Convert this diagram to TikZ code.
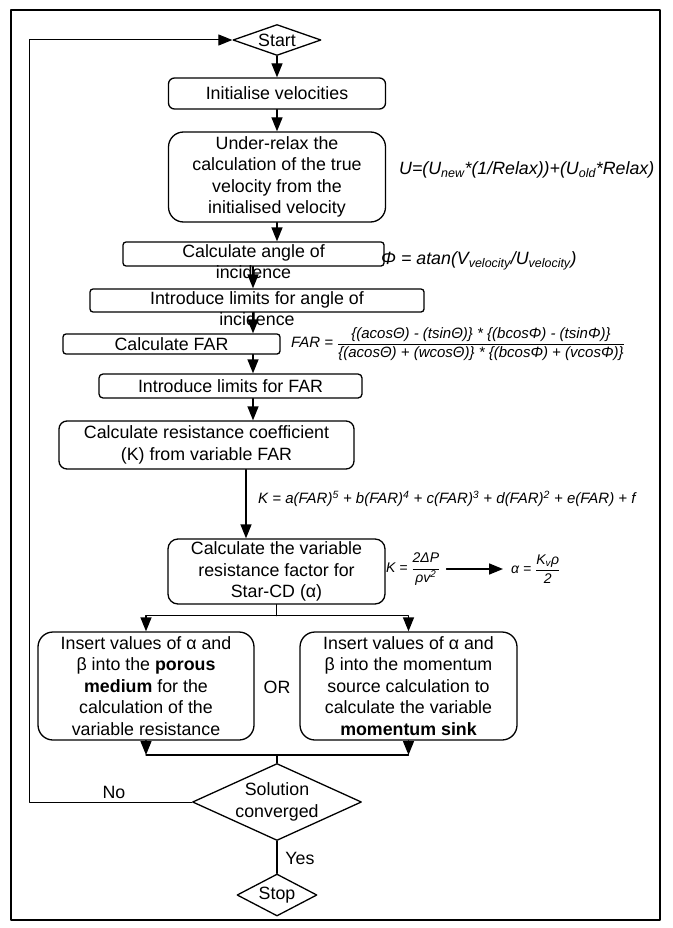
\documentclass[tikz,border=0pt]{standalone}
\usepackage{fontspec}
\setmainfont{Liberation Sans}
\usetikzlibrary{arrows.meta,shapes.geometric}
\tikzset{
    txt/.style={font=\fontsize{17.8}{21.5}\selectfont},
    eqn/.style={font=\fontsize{#1}{20}\selectfont\itshape, inner sep=0pt, anchor=west},
    eqn/.default=15,
    stepbox/.style={draw, line width=1.3pt, rounded corners=#1, txt, align=center, inner sep=0pt},
    stepbox/.default=4pt,
    decision/.style={draw, shape=diamond, line width=1.3pt, txt, align=center, inner sep=0pt},
    link/.style={line width=1.3pt, -{Triangle[length=14pt,width=11pt]}}
}

\begin{document}
\begin{tikzpicture}[x=1pt, y=-1pt, line cap=round, line join=round]

\useasboundingbox (0,0) rectangle (672,928);
\draw[line width=2pt] (11,10) rectangle (660,920);

\def\xmid{277}
\coordinate (spine) at (253,0);
\coordinate (kline) at (246,0);
\coordinate (loopx) at (29,0);

% main column
\node[decision, aspect=2.8, minimum width=88pt, minimum height=31pt] (start) at (\xmid,40) {Start};
\node[stepbox=6pt, minimum width=217pt, minimum height=31pt] (init) at (\xmid,93.5) {Initialise velocities};
\node[stepbox=15pt, minimum width=217pt, minimum height=90pt] (relax) at (\xmid,177) {Under-relax the\\calculation of the true\\velocity from the\\initialised velocity};
\node[stepbox=3pt, minimum width=261pt, minimum height=24pt] (angle) at (253.5,254) {};
\node[txt, align=center, inner sep=0pt] (angletxt) at (253.5,261.5) {Calculate angle of\\incidence};
\node[stepbox=3pt, minimum width=334pt, minimum height=23pt] (limang) at (257,300.5) {};
\node[txt, align=center, inner sep=0pt] (limangtxt) at (257,308.5) {Introduce limits for angle of\\incidence};
\node[stepbox=3pt, minimum width=217pt, minimum height=20pt] (far) at (171.5,344) {Calculate FAR};
\node[stepbox, minimum width=263pt, minimum height=24pt] (limfar) at (230.5,386) {Introduce limits for FAR};
\node[stepbox=8pt, minimum width=295pt, minimum height=48pt] (resist) at (206.5,445) {Calculate resistance coefficient\\(K) from variable FAR};
\node[stepbox=10pt, minimum width=217pt, minimum height=65pt] (varres) at (276.5,571.5) {Calculate the variable\\resistance factor for\\Star-CD (α)};

% the two ways to apply the resistance
\node[stepbox=15pt, minimum width=216pt, minimum height=108pt] (porous) at (146,686) {Insert values of α and\\β into the \textbf{porous}\\\textbf{medium} for the\\calculation of the\\variable resistance};
\node[stepbox=15pt, minimum width=217pt, minimum height=108pt] (sink) at (408.5,686) {Insert values of α and\\β into the momentum\\source calculation to\\calculate the variable\\\textbf{momentum sink}};
\node[txt] (or) at (\xmid,687) {OR};

\node[decision, aspect=2.2, minimum width=169pt, minimum height=77pt] (conv) at (\xmid,802) {Solution\\converged};
\node[decision, aspect=1.9, minimum width=80pt, minimum height=42pt] (stop) at (\xmid,895) {Stop};
\node[txt] (no) at (114,792) {No};
\node[txt] (yes) at (300,858) {Yes};

% equations beside the steps
\node[eqn=17.8] (urel) at (399,170) {U=(U\textsubscript{new}*(1/Relax))+(U\textsubscript{old}*Relax)};
\node[eqn=17.8] (phi) at (381,261) {Φ = atan(V\textsubscript{velocity}/U\textsubscript{velocity})};
\node[eqn] (fareq) at (291,344) {FAR = $\displaystyle\frac{\mbox{\{(acosΘ) - (tsinΘ)\} * \{(bcosΦ) - (tsinΦ)\}}}{\mbox{\{(acosΘ) + (wcosΘ)\} * \{(bcosΦ) + (vcosΦ)\}}}$};
\node[eqn] (keq) at (258,499) {K = a(FAR)\textsuperscript{5} + b(FAR)\textsuperscript{4} + c(FAR)\textsuperscript{3} + d(FAR)\textsuperscript{2} + e(FAR) + f};
\node[eqn=14] (kdef) at (386,569) {K = $\displaystyle\frac{\mbox{2ΔP}}{\mbox{ρv\textsuperscript{2}}}$};
\node[eqn=14] (alpha) at (511,569) {α = $\displaystyle\frac{\mbox{K\textsubscript{v}ρ}}{\mbox{2}}$};

\draw[link] (start) -- (init);
\draw[link] (init) -- (relax);
\draw[link] (relax) -- (relax.south |- angle.north);
\draw[link] (angle.south -| spine) -- (limang.north -| spine);
\draw[link] (limang.south -| spine) -- (far.north -| spine);
\draw[link] (far.south -| spine) -- (limfar.north -| spine);
\draw[link] (limfar.south -| spine) -- (resist.north -| spine);
\draw[link] (resist.south -| kline) -- (varres.north -| kline);
\draw[link, line width=1.6pt, shorten <=6pt, shorten >=8pt] (kdef) -- (alpha);

% split and merge
\draw[line width=1.3pt] (varres.south) -- ++(0,11) coordinate (split);
\draw[link] (split) -| (porous.north);
\draw[link] (split) -| (sink.north);
\coordinate (merge) at (\xmid,755);
\draw[link] (porous) -- (porous.south |- merge);
\draw[link] (sink) -- (sink.south |- merge);
\draw[line width=1.3pt] (porous.south |- merge) -- (sink.south |- merge);
\draw[line width=1.3pt] (merge) -- (conv);
\draw[line width=1.3pt] (conv) -- (stop);

% loop back
\draw[link, line width=1pt] (conv.west) -- (conv.west -| loopx) |- (start.west);

\end{tikzpicture}
\end{document}
